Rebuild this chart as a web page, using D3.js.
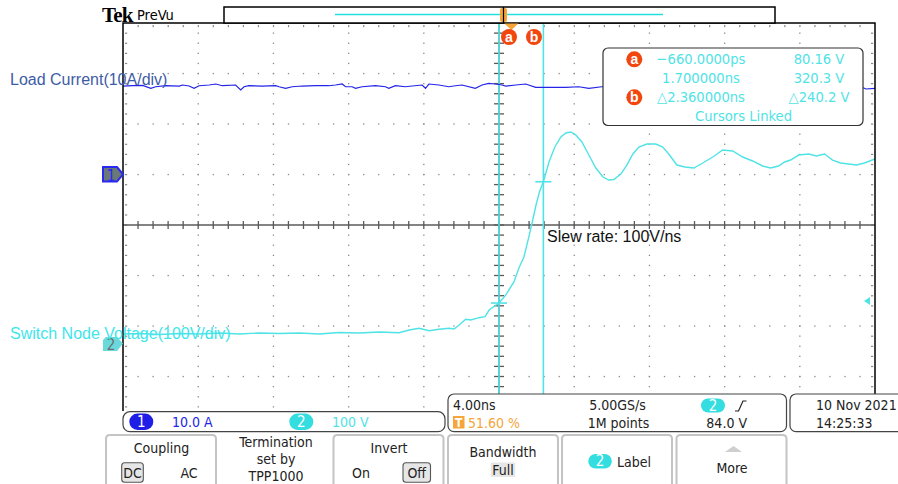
<!DOCTYPE html>
<html>
<head>
<meta charset="utf-8">
<script src="https://cdn.jsdelivr.net/npm/d3@7"></script>
<style>
  body { margin: 0; background: #fff; }
  svg { display: block; }
  .ui { font-family: "DejaVu Sans Condensed", "Liberation Sans Narrow", "DejaVu Sans", sans-serif; }
  .arial { font-family: "Liberation Sans", Arial, sans-serif; }
</style>
</head>
<body>
<svg id="scope" width="898" height="484"></svg>
<script>
// channel 1 : load current (A) vs time (ns)
const ch1Time = [-20.66,-20.16,-19.62,-19.18,-18.92,-18.39,-17.67,-17.50,-17.14,-16.88,-16.61,-16.08,-15.73,-15.37,-14.67,-14.40,-14.22,-13.96,-13.25,-12.54,-12.36,-12.01,-11.66,-11.12,-10.42,-9.71,-9.36,-9.00,-8.82,-8.47,-8.29,-7.94,-7.23,-6.70,-6.52,-6.17,-5.64,-5.28,-4.75,-4.57,-4.39,-3.86,-3.33,-2.98,-2.63,-1.92,-1.56,-1.21,-0.86,-0.50,-0.30,0.23,0.76,1.29,1.82,2.35,2.88,3.59,4.12,4.80,8.0,12.0,16.0,18.62,18.86,19.34];
const ch1Amps = [17.48,17.54,17.62,17.03,17.34,17.54,17.48,17.68,17.48,17.03,17.54,17.68,17.88,17.54,17.68,16.69,17.34,17.54,17.48,17.54,17.34,17.03,17.34,17.48,17.54,17.54,17.68,17.88,17.34,17.34,17.03,17.34,17.54,17.34,17.03,17.54,17.34,17.48,17.68,17.03,17.88,17.68,17.34,17.54,17.68,17.03,17.68,18.02,17.88,17.68,17.48,17.68,17.88,17.23,17.23,17.23,17.23,17.34,17.03,17.34,17.4,17.4,17.4,17.29,16.89,17.03];

// channel 2 : switch node voltage (V) vs time (ns)
const ch2Time = [-20.66,-19.78,-18.72,-17.66,-16.60,-15.53,-14.47,-13.41,-12.35,-11.28,-10.22,-9.16,-8.10,-7.03,-5.97,-5.44,-4.91,-4.38,-3.85,-3.32,-3.05,-2.78,-2.43,-2.16,-1.72,-1.40,-1.19,-0.66,-0.30,0.14,0.40,0.67,0.93,1.11,1.31,1.49,1.70,2.00,2.31,2.63,2.90,3.16,3.43,3.75,4.12,4.49,4.87,5.18,5.45,5.82,6.14,6.46,6.78,7.20,7.68,8.05,8.37,8.80,9.22,9.70,10.18,10.71,11.24,11.77,12.30,12.83,13.36,13.79,14.21,14.53,14.85,15.28,15.81,16.23,16.66,17.08,17.51,17.93,18.36,18.78,19.34];
const ch2Volts = [18.8,19.8,17.8,19.8,18.8,20.8,18.8,20.8,19.8,20.8,18.8,21.8,20.8,22.8,21.4,26.7,30.1,25.3,28.1,30.1,28.7,36.6,47.9,46.5,51.1,53.1,66.3,80.2,96.0,122.4,149.5,171.9,211.5,240.6,274.2,300.0,320.3,359.4,389.1,408.9,416.8,418.8,412.8,399.0,373.2,347.5,329.7,323.7,324.7,335.6,353.4,375.2,389.1,395.0,395.0,389.1,375.2,353.4,349.5,347.5,357.4,369.3,383.1,381.2,369.3,361.4,351.5,347.5,351.5,359.4,363.3,373.2,375.2,371.3,375.2,363.3,357.4,355.4,353.4,357.4,365.3];

// cursors and trigger
const cursorNames = ["a", "b"];
const cursorTimes = [-0.66, 1.70];
const cursorVolts = [80.16, 320.3];
const trigLevel = 84.0;
const timeWindow = [-20.66, 19.34];   // 10 div x 4.00 ns

// readout texts
const readTimes = ["\u2212660.0000ps", "1.700000ns", "\u25b32.360000ns"];
const readVolts = ["80.16 V", "320.3 V", "\u25b3240.2 V"];
const menuTitles = ["Coupling", "Termination|set by|TPP1000", "Invert", "Bandwidth", "Label", "More"];

const svg = d3.select("#scope");
const L = 123, R = 875, T = 23, B = 427;
const divX = (R - L) / 10, divY = (B - T) / 8;

const x = d3.scaleLinear().domain(timeWindow).range([L, R]);
const y1 = d3.scaleLinear().domain([0, 10]).range([174.3, 174.3 - divY]);   // 10 A/div
const y2 = d3.scaleLinear().domain([0, 100]).range([343.5, 343.5 - divY]);  // 100 V/div

const CYAN = "#4fe3e6", BLUE = "#2424e8", ORANGE = "#f2460f", TRIG = "#f5a53a", GRID = "#8a8a8a";

svg.append("defs").append("clipPath").attr("id", "plotclip")
  .append("rect").attr("x", L).attr("y", T).attr("width", R - L).attr("height", 411 - T);

const plot = svg.append("g").attr("clip-path", "url(#plotclip)");

// graticule dots
const dots = plot.append("g").attr("fill", GRID);
d3.range(1, 10).filter(k => k !== 5).forEach(k => {
  const gx = L + k * divX;
  d3.range(T + divY / 5, B, divY / 5).forEach(gy =>
    dots.append("rect").attr("x", gx - 0.6).attr("y", gy - 0.6).attr("width", 1.3).attr("height", 1.3));
});
d3.range(1, 8).filter(k => k !== 4).forEach(k => {
  const gy = T + k * divY;
  d3.range(L + divX / 5, R, divX / 5).forEach(gx =>
    dots.append("rect").attr("x", gx - 0.6).attr("y", gy - 0.6).attr("width", 1.3).attr("height", 1.3));
});
// edge ticks
d3.range(L + divX / 5, R, divX / 5).forEach(gx =>
  dots.append("rect").attr("x", gx - 0.5).attr("y", T + 2).attr("width", 1.2).attr("height", 2.2));
d3.range(T + divY / 5, B, divY / 5).forEach(gy => {
  dots.append("rect").attr("x", L + 2).attr("y", gy - 0.5).attr("width", 2.2).attr("height", 1.2);
  dots.append("rect").attr("x", R - 4).attr("y", gy - 0.5).attr("width", 2.2).attr("height", 1.2);
});

// centre cross with minor ticks
const cx = L + 5 * divX, cy = T + 4 * divY;
const cross = plot.append("g").attr("stroke", "#5a5a5a").attr("stroke-width", 1.3);
cross.append("line").attr("x1", L).attr("x2", R).attr("y1", cy).attr("y2", cy);
cross.append("line").attr("x1", cx).attr("x2", cx).attr("y1", T).attr("y2", B);
d3.range(L + divX / 5, R, divX / 5).forEach(gx =>
  cross.append("line").attr("x1", gx).attr("x2", gx).attr("y1", cy - 4).attr("y2", cy + 4));
d3.range(T + divY / 5, B, divY / 5).forEach(gy =>
  cross.append("line").attr("x1", cx - 5).attr("x2", cx + 5).attr("y1", gy).attr("y2", gy));

// cursors
cursorTimes.forEach((t, i) => {
  plot.append("line").attr("x1", x(t)).attr("x2", x(t)).attr("y1", T).attr("y2", B)
    .attr("stroke", CYAN).attr("stroke-width", 1.6);
  plot.append("line").attr("x1", x(t) - 8).attr("x2", x(t) + 8)
    .attr("y1", y2(cursorVolts[i])).attr("y2", y2(cursorVolts[i]))
    .attr("stroke", CYAN).attr("stroke-width", 1.6);
});

// waveforms
const line1 = d3.line().x(d => x(d[0])).y(d => y1(d[1]));
const line2 = d3.line().x(d => x(d[0])).y(d => y2(d[1]));
plot.append("path").datum(d3.zip(ch1Time, ch1Amps)).attr("d", line1)
  .attr("fill", "none").attr("stroke", BLUE).attr("stroke-width", 1.2);
plot.append("path").datum(d3.zip(ch2Time, ch2Volts)).attr("d", line2)
  .attr("fill", "none").attr("stroke", CYAN).attr("stroke-width", 1.4);

// trigger level marker
const ty = y2(trigLevel);
svg.append("path").attr("d", `M${R - 11},${ty} L${R - 5},${ty - 4} L${R - 5},${ty + 4} Z`).attr("fill", CYAN);

// frame
svg.append("path").attr("d", `M${L},411 L${L},${T} L${R},${T} L${R},394`)
  .attr("fill", "none").attr("stroke", "#000").attr("stroke-width", 1.5);

// header: Tek PreVu and record bar
svg.append("text").attr("x", 102).attr("y", 22).text("Tek")
  .attr("font-family", "Liberation Serif, Times New Roman, serif").attr("font-weight", "bold")
  .attr("font-size", 21).attr("letter-spacing", -0.8);
svg.append("text").attr("class", "ui").attr("x", 137).attr("y", 20).attr("font-size", 14.5).text("PreVu");
svg.append("rect").attr("x", 224).attr("y", 7).attr("width", 551).attr("height", 16)
  .attr("fill", "#fff").attr("stroke", "#000").attr("stroke-width", 1.5);
svg.append("line").attr("x1", 335).attr("x2", 663).attr("y1", 14.5).attr("y2", 14.5)
  .attr("stroke", "#22dede").attr("stroke-width", 1.5);
svg.append("rect").attr("x", cx + 1).attr("y", 8).attr("width", 7).attr("height", 14).attr("rx", 2)
  .attr("fill", TRIG);
svg.append("line").attr("x1", cx + 4.5).attr("x2", cx + 4.5).attr("y1", 7).attr("y2", 23)
  .attr("stroke", "#000").attr("stroke-width", 1.2);
const t0 = x(0);
svg.append("path").attr("d", `M${t0 - 7},${T + 0.5} L${t0 + 7},${T + 0.5} L${t0},${T + 7} Z`).attr("fill", TRIG);

// cursor badges
function badge(g, bx, by, letter) {
  g.append("circle").attr("cx", bx).attr("cy", by).attr("r", 8).attr("fill", ORANGE);
  g.append("text").attr("x", bx).attr("y", by + 4.5).attr("text-anchor", "middle")
    .attr("class", "arial").attr("font-weight", "bold").attr("font-size", 14).attr("fill", "#fff").text(letter);
}
badge(svg, 509, 37, cursorNames[0]);
badge(svg, 534, 37, cursorNames[1]);

// channel markers
svg.append("path").attr("d", "M103,167 L117,167 L123,174.3 L117,181.5 L103,181.5 Z")
  .attr("fill", "#6b7878").attr("stroke", "#2a2af0").attr("stroke-width", 2);
svg.append("text").attr("class", "ui").attr("x", 111).attr("y", 180.5).attr("text-anchor", "middle")
  .attr("font-size", 16).attr("fill", "#2a2af0").text("1");
svg.append("path").attr("d", "M106,337 L117,337 L123,343.5 L117,351 L103,351 L103,340 Z")
  .attr("fill", "#6ad9dc");
svg.append("text").attr("class", "ui").attr("x", 111).attr("y", 349.5).attr("text-anchor", "middle")
  .attr("font-size", 15).attr("fill", "#6a7070").text("2");

// annotations
svg.append("text").attr("class", "arial").attr("x", 10).attr("y", 85).attr("font-size", 16)
  .attr("fill", "#3d5ca6").text("Load Current(10A/div)");
svg.append("text").attr("class", "arial").attr("x", 10).attr("y", 338.5).attr("font-size", 16)
  .attr("fill", "#3ee6ec").text("Switch Node Voltage(100V/div)");
svg.append("text").attr("class", "arial").attr("x", 547).attr("y", 242).attr("font-size", 16)
  .attr("fill", "#111").text("Slew rate: 100V/ns");

// cursor readout box
const rb = svg.append("g").attr("class", "ui").attr("font-size", 14.6).attr("fill", CYAN);
rb.append("rect").attr("x", 603).attr("y", 48).attr("width", 260).attr("height", 77.5).attr("rx", 5)
  .attr("fill", "#fff").attr("stroke", "#333").attr("stroke-width", 1.2);
const rowY = [64, 83, 102];
readTimes.forEach((s, i) => rb.append("text").attr("x", 701).attr("y", rowY[i]).attr("text-anchor", "middle").text(s));
readVolts.forEach((s, i) => rb.append("text").attr("x", 819).attr("y", rowY[i]).attr("text-anchor", "middle").text(s));
rb.append("text").attr("x", 743.5).attr("y", 121).attr("text-anchor", "middle").text("Cursors Linked");
badge(rb, 634.3, 59.3, cursorNames[0]);
badge(rb, 634.3, 97.3, cursorNames[1]);

// bottom status bars
const ui = svg.append("g").attr("class", "ui").attr("font-size", 14).attr("fill", "#222");
function pill(g, px, py, w, h, fill, label) {
  g.append("rect").attr("x", px).attr("y", py).attr("width", w).attr("height", h).attr("rx", h / 2).attr("fill", fill);
  g.append("text").attr("x", px + w / 2).attr("y", py + h / 2 + 5).attr("text-anchor", "middle")
    .attr("fill", "#fff").attr("font-size", 15).text(label);
}
ui.append("rect").attr("x", 123).attr("y", 411.7).attr("width", 322).attr("height", 20).attr("rx", 7)
  .attr("fill", "#fff").attr("stroke", "#444").attr("stroke-width", 1.2);
pill(ui, 129.3, 413.5, 24, 16.5, "#1e1ee6", "1");
ui.append("text").attr("x", 172).attr("y", 427).attr("fill", BLUE).text("10.0 A");
pill(ui, 289.3, 413.5, 24, 16.5, "#33dde0", "2");
ui.append("text").attr("x", 332).attr("y", 427).attr("fill", CYAN).text("100 V");

ui.append("rect").attr("x", 448).attr("y", 394).attr("width", 338.5).attr("height", 37.7).attr("rx", 6)
  .attr("fill", "#fff").attr("stroke", "#444").attr("stroke-width", 1.2);
ui.append("text").attr("x", 453).attr("y", 409.5).text("4.00ns");
ui.append("rect").attr("x", 453).attr("y", 416).attr("width", 11.5).attr("height", 12.5).attr("fill", TRIG);
ui.append("text").attr("x", 458.7).attr("y", 427).attr("text-anchor", "middle").attr("fill", "#fff")
  .attr("font-size", 12).attr("font-weight", "bold").text("T");
ui.append("text").attr("x", 468).attr("y", 427.5).attr("fill", TRIG).text("51.60 %");
ui.append("text").attr("x", 617.5).attr("y", 409.5).attr("text-anchor", "middle").text("5.00GS/s");
ui.append("text").attr("x", 618.5).attr("y", 427.5).attr("text-anchor", "middle").text("1M points");
pill(ui, 701, 398.5, 24, 14, "#33dde0", "2");
ui.append("path").attr("d", "M735,411 L738.5,411 L743,401 L746.5,401").attr("fill", "none")
  .attr("stroke", "#222").attr("stroke-width", 1.2);
ui.append("text").attr("x", 726.7).attr("y", 427.5).attr("text-anchor", "middle").text(trigLevel.toFixed(1) + " V");

ui.append("rect").attr("x", 790).attr("y", 394).attr("width", 120).attr("height", 37.7).attr("rx", 6)
  .attr("fill", "#fff").attr("stroke", "#444").attr("stroke-width", 1.2);
ui.append("text").attr("x", 816).attr("y", 409.5).text("10 Nov  2021");
ui.append("text").attr("x", 816).attr("y", 427.5).text("14:25:33");

// menu buttons
const btnX = [106, 220, 333.5, 448, 562, 676.5];
btnX.forEach((bx, i) => {
  if (i === 1) return;
  ui.append("path").attr("d", `M${bx},484 L${bx},439 Q${bx},435 ${bx + 4},435 L${bx + 106},435 Q${bx + 110},435 ${bx + 110},439 L${bx + 110},484`)
    .attr("fill", "none").attr("stroke", "#c4c4c4").attr("stroke-width", 2);
});
function boxed(g, bx, by, w, h, label) {
  g.append("rect").attr("x", bx).attr("y", by).attr("width", w).attr("height", h).attr("rx", 3)
    .attr("fill", "#e6e6e6").attr("stroke", "#555").attr("stroke-width", 1.1);
  g.append("text").attr("x", bx + w / 2).attr("y", by + h - 4.5).attr("text-anchor", "middle").text(label);
}
ui.append("text").attr("x", 161.5).attr("y", 453).attr("text-anchor", "middle").text(menuTitles[0]);
boxed(ui, 121.7, 462.7, 21.6, 19.5, "DC");
ui.append("text").attr("x", 189).attr("y", 477.5).attr("text-anchor", "middle").text("AC");
menuTitles[1].split("|").forEach((s, i) =>
  ui.append("text").attr("x", 276).attr("y", 447 + i * 16.8).attr("text-anchor", "middle").text(s));
ui.append("text").attr("x", 389).attr("y", 453).attr("text-anchor", "middle").text(menuTitles[2]);
ui.append("text").attr("x", 361).attr("y", 477.5).attr("text-anchor", "middle").text("On");
boxed(ui, 403, 462.7, 27.5, 19.5, "Off");
ui.append("text").attr("x", 503).attr("y", 457).attr("text-anchor", "middle").text(menuTitles[3]);
ui.append("rect").attr("x", 490.7).attr("y", 462.5).attr("width", 24.5).attr("height", 14.5).attr("fill", "#e6e6e6");
ui.append("text").attr("x", 503).attr("y", 474.5).attr("text-anchor", "middle").text("Full");
pill(ui, 588.3, 454, 23.5, 14.5, "#33dde0", "2");
ui.append("text").attr("x", 617).attr("y", 466.5).text(menuTitles[4]);
ui.append("path").attr("d", "M725,452 L733.5,446 L742,452 Z").attr("fill", "#cfcfcf");
ui.append("text").attr("x", 732).attr("y", 473).attr("text-anchor", "middle").text(menuTitles[5]);
</script>
</body>
</html>
